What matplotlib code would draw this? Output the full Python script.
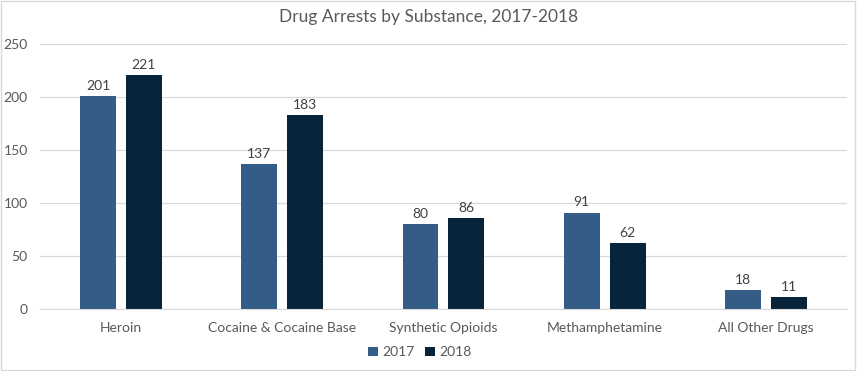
import numpy as np
import matplotlib
matplotlib.use("Agg")
import matplotlib.pyplot as plt
from matplotlib.patches import Rectangle

# data
categories = ["Heroin", "Cocaine & Cocaine Base", "Synthetic Opioids",
              "Methamphetamine", "All Other Drugs"]
arrests_2017 = [201, 137, 80, 91, 18]
arrests_2018 = [221, 183, 86, 62, 11]
yticks = [0, 50, 100, 150, 200, 250]

color_2017 = "#335C87"
color_2018 = "#08243B"
text_color = "#595959"

plt.rcParams["font.family"] = ["Lato", "DejaVu Sans"]

fig = plt.figure(figsize=(8.57, 3.71), dpi=100)
ax = fig.add_axes([0.047, 0.167, 0.941, 0.714])

x = np.arange(len(categories))
w = 0.223
off = 0.1425

bars1 = ax.bar(x - off, arrests_2017, w, color=color_2017, label="2017", zorder=3)
bars2 = ax.bar(x + off, arrests_2018, w, color=color_2018, label="2018", zorder=3)

for bars in (bars1, bars2):
    for b in bars:
        h = b.get_height()
        ax.text(b.get_x() + b.get_width() / 2, h + 4, f"{h:.0f}",
                ha="center", va="bottom", fontsize=10, color="#404040")

ax.set_xlim(-0.5, len(categories) - 0.5)
ax.set_ylim(0, 250)
ax.set_yticks(yticks)
ax.set_xticks(x)
ax.set_xticklabels(categories)
ax.tick_params(axis="both", length=0, labelsize=10, labelcolor=text_color)
ax.tick_params(axis="x", pad=9)
ax.tick_params(axis="y", pad=9)
ax.grid(axis="y", color="#D9D9D9", linewidth=0.9, zorder=0)
for s in ["top", "right", "left"]:
    ax.spines[s].set_visible(False)
ax.spines["bottom"].set_color("#D9D9D9")
ax.spines["bottom"].set_zorder(4)

fig.text(0.5, 0.955, "Drug Arrests by Substance, 2017-2018", ha="center",
         va="center", fontsize=12.5, color=text_color)

fig.legend(loc="center", bbox_to_anchor=(0.49, 0.05), ncol=2, frameon=False,
           fontsize=10, handlelength=0.7, handleheight=0.7, columnspacing=0.8,
           handletextpad=0.3, labelcolor=text_color)

fig.patches.append(Rectangle((0.001, 0.002), 0.997, 0.995, transform=fig.transFigure,
                             fill=False, edgecolor="#D9D9D9", linewidth=1))

fig.savefig("out.png", dpi=100)
